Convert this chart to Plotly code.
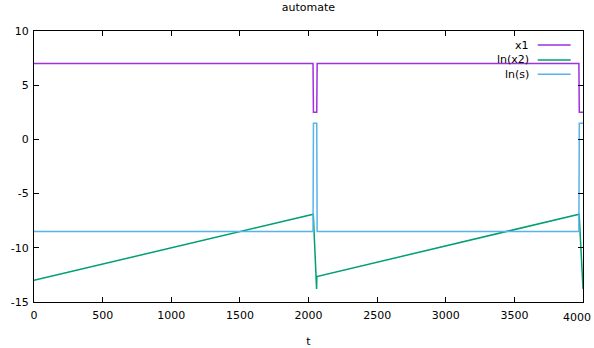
import plotly.graph_objects as go

# time breakpoints and values of each series
t_x1 = [0, 2033, 2036, 2060, 2063, 3970, 3973, 4000]
x1 = [7, 7, 2.5, 2.5, 7, 7, 2.5, 2.5]

t_lnx2 = [0, 2035, 2059, 2061, 3972, 4000]
ln_x2 = [-13.0, -6.9, -13.8, -12.65, -6.9, -13.8]

t_lns = [0, 2033, 2036, 2060, 2063, 3970, 3973, 4000]
ln_s = [-8.5, -8.5, 1.5, 1.5, -8.5, -8.5, 1.5, 1.5]

names = ["x1", "ln(x2)", "ln(s)"]
colors = ["#A030E0", "#009E73", "#56B4E9"]
x_ticks = [0, 500, 1000, 1500, 2000, 2500, 3000, 3500, 4000]
y_ticks = [-15, -10, -5, 0, 5, 10]

FONT = "DejaVu Sans"
TXT = dict(family=FONT, size=11, color="#000000")

fig = go.Figure()
for tx, ty, name, col in zip([t_x1, t_lnx2, t_lns], [x1, ln_x2, ln_s], names, colors):
    fig.add_trace(go.Scatter(x=tx, y=ty, mode="lines", name=name,
                             line=dict(color=col, width=1.5)))

# gnuplot-style key: right-aligned label followed by a line sample
key_y = [0.948, 0.893, 0.840]
for name, col, ky in zip(names, colors, key_y):
    fig.add_annotation(x=0.905, y=ky, xref="paper", yref="paper", text=name,
                       showarrow=False, xanchor="right", yanchor="middle", font=TXT)
    fig.add_shape(type="line", xref="paper", yref="paper",
                  x0=0.9175, x1=0.9776, y0=ky, y1=ky,
                  line=dict(color=col, width=1.5))

# last x tick label sits at the right edge of the page
fig.add_annotation(x=x_ticks[-1], y=0, xref="x", yref="paper", text=str(x_ticks[-1]),
                   showarrow=False, xanchor="right", yanchor="top", xshift=10, yshift=-7,
                   font=TXT)

axis_common = dict(showline=True, linecolor="#000000", linewidth=1, mirror="allticks",
                   ticks="inside", ticklen=5, tickcolor="#000000", showgrid=False,
                   zeroline=False, tickfont=TXT, automargin=False)

fig.update_layout(
    width=594, height=348,
    margin=dict(l=34, r=11, t=31, b=46),
    plot_bgcolor="white", paper_bgcolor="white",
    showlegend=False,
    title=dict(text="automate", x=0.5, xref="paper", y=1 - 7 / 348, yref="container",
               xanchor="center", yanchor="middle", font=TXT),
    xaxis=dict(range=[0, 4000], tickvals=x_ticks[:-1], ticktext=[str(v) for v in x_ticks[:-1]],
               ticklabelstandoff=3,
               title=dict(text="t", font=TXT, standoff=16),
               **axis_common),
    yaxis=dict(range=[-15, 10], tickvals=y_ticks, ticktext=[str(v) for v in y_ticks],
               ticklabelstandoff=2, **axis_common),
)

fig.write_html("out.html")
